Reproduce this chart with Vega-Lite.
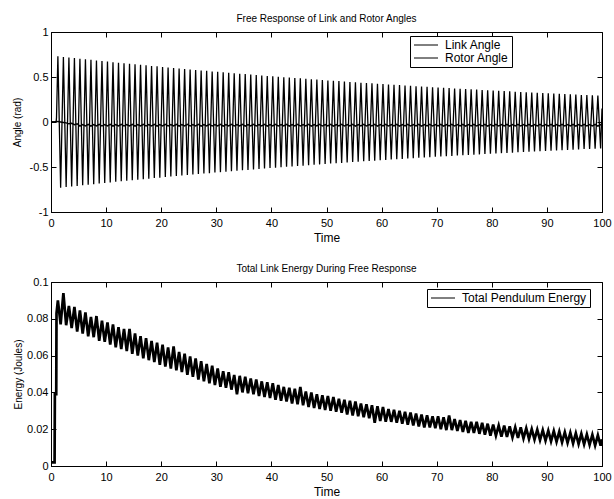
{
"$schema": "https://vega.github.io/schema/vega-lite/v6.json",
"padding": {"left": 11, "top": 13, "right": 0, "bottom": 2},
"background": "white",
"data": {"values": [
{"t":0,"link":0,"rotor":0,"energy":0.002},
{"t":0.65,"link":0,"rotor":0,"energy":0.002},
{"t":0.7,"link":0,"rotor":0,"energy":0.039},
{"t":0.95,"link":0.01,"rotor":0.002,"energy":0.039},
{"t":1.0,"link":0.05,"rotor":0.004,"energy":0.083},
{"t":1.25,"link":0.73,"rotor":0.005,"energy":0.09},{"t":1.75,"link":-0.73,"rotor":0,"energy":0.077},
{"t":2.25,"link":0.723,"rotor":-0.005,"energy":0.094},{"t":2.75,"link":-0.723,"rotor":-0.01,"energy":0.0765},
{"t":3.25,"link":0.717,"rotor":-0.02,"energy":0.087},{"t":3.75,"link":-0.717,"rotor":-0.015,"energy":0.075},
{"t":4.25,"link":0.71,"rotor":-0.03,"energy":0.0865},{"t":4.75,"link":-0.71,"rotor":-0.02,"energy":0.073},
{"t":5.25,"link":0.704,"rotor":-0.045,"energy":0.0845},{"t":5.75,"link":-0.704,"rotor":-0.028,"energy":0.072},
{"t":6.25,"link":0.697,"rotor":-0.044,"energy":0.0835},{"t":6.75,"link":-0.697,"rotor":-0.027,"energy":0.0705},
{"t":7.25,"link":0.691,"rotor":-0.046,"energy":0.081},{"t":7.75,"link":-0.691,"rotor":-0.029,"energy":0.07},
{"t":8.25,"link":0.684,"rotor":-0.043,"energy":0.0815},{"t":8.75,"link":-0.684,"rotor":-0.026,"energy":0.068},
{"t":9.25,"link":0.678,"rotor":-0.045,"energy":0.079},{"t":9.75,"link":-0.678,"rotor":-0.028,"energy":0.0675},
{"t":10.25,"link":0.671,"rotor":-0.044,"energy":0.078},{"t":10.75,"link":-0.671,"rotor":-0.027,"energy":0.066},
{"t":11.25,"link":0.665,"rotor":-0.046,"energy":0.077},{"t":11.75,"link":-0.665,"rotor":-0.029,"energy":0.0645},
{"t":12.25,"link":0.659,"rotor":-0.043,"energy":0.0755},{"t":12.75,"link":-0.659,"rotor":-0.026,"energy":0.0635},
{"t":13.25,"link":0.653,"rotor":-0.045,"energy":0.0745},{"t":13.75,"link":-0.653,"rotor":-0.028,"energy":0.0625},
{"t":14.25,"link":0.647,"rotor":-0.044,"energy":0.0745},{"t":14.75,"link":-0.647,"rotor":-0.027,"energy":0.061},
{"t":15.25,"link":0.641,"rotor":-0.046,"energy":0.072},{"t":15.75,"link":-0.641,"rotor":-0.029,"energy":0.06},
{"t":16.25,"link":0.635,"rotor":-0.043,"energy":0.0705},{"t":16.75,"link":-0.635,"rotor":-0.026,"energy":0.0585},
{"t":17.25,"link":0.629,"rotor":-0.045,"energy":0.0695},{"t":17.75,"link":-0.629,"rotor":-0.028,"energy":0.0575},
{"t":18.25,"link":0.623,"rotor":-0.044,"energy":0.068},{"t":18.75,"link":-0.623,"rotor":-0.027,"energy":0.0565},
{"t":19.25,"link":0.618,"rotor":-0.046,"energy":0.067},{"t":19.75,"link":-0.618,"rotor":-0.029,"energy":0.055},
{"t":20.25,"link":0.612,"rotor":-0.043,"energy":0.066},{"t":20.75,"link":-0.612,"rotor":-0.026,"energy":0.054},
{"t":21.25,"link":0.606,"rotor":-0.045,"energy":0.0645},{"t":21.75,"link":-0.606,"rotor":-0.028,"energy":0.053},
{"t":22.25,"link":0.6,"rotor":-0.044,"energy":0.065},{"t":22.75,"link":-0.6,"rotor":-0.027,"energy":0.052},
{"t":23.25,"link":0.595,"rotor":-0.046,"energy":0.062},{"t":23.75,"link":-0.595,"rotor":-0.029,"energy":0.051},
{"t":24.25,"link":0.589,"rotor":-0.043,"energy":0.061},{"t":24.75,"link":-0.589,"rotor":-0.026,"energy":0.0495},
{"t":25.25,"link":0.584,"rotor":-0.045,"energy":0.0595},{"t":25.75,"link":-0.584,"rotor":-0.028,"energy":0.0485},
{"t":26.25,"link":0.578,"rotor":-0.044,"energy":0.0585},{"t":26.75,"link":-0.578,"rotor":-0.027,"energy":0.047},
{"t":27.25,"link":0.573,"rotor":-0.046,"energy":0.057},{"t":27.75,"link":-0.573,"rotor":-0.029,"energy":0.046},
{"t":28.25,"link":0.568,"rotor":-0.043,"energy":0.0555},{"t":28.75,"link":-0.568,"rotor":-0.026,"energy":0.045},
{"t":29.25,"link":0.562,"rotor":-0.045,"energy":0.0545},{"t":29.75,"link":-0.562,"rotor":-0.028,"energy":0.044},
{"t":30.25,"link":0.557,"rotor":-0.044,"energy":0.053},{"t":30.75,"link":-0.557,"rotor":-0.027,"energy":0.043},
{"t":31.25,"link":0.552,"rotor":-0.046,"energy":0.0515},{"t":31.75,"link":-0.552,"rotor":-0.029,"energy":0.0425},
{"t":32.25,"link":0.547,"rotor":-0.043,"energy":0.051},{"t":32.75,"link":-0.547,"rotor":-0.026,"energy":0.0415},
{"t":33.25,"link":0.542,"rotor":-0.045,"energy":0.0495},{"t":33.75,"link":-0.542,"rotor":-0.028,"energy":0.039},
{"t":34.25,"link":0.537,"rotor":-0.044,"energy":0.049},{"t":34.75,"link":-0.537,"rotor":-0.027,"energy":0.04},
{"t":35.25,"link":0.532,"rotor":-0.046,"energy":0.0485},{"t":35.75,"link":-0.532,"rotor":-0.029,"energy":0.0395},
{"t":36.25,"link":0.527,"rotor":-0.043,"energy":0.0475},{"t":36.75,"link":-0.527,"rotor":-0.026,"energy":0.039},
{"t":37.25,"link":0.522,"rotor":-0.045,"energy":0.047},{"t":37.75,"link":-0.522,"rotor":-0.028,"energy":0.038},
{"t":38.25,"link":0.517,"rotor":-0.044,"energy":0.046},{"t":38.75,"link":-0.517,"rotor":-0.027,"energy":0.0375},
{"t":39.25,"link":0.512,"rotor":-0.046,"energy":0.0455},{"t":39.75,"link":-0.512,"rotor":-0.029,"energy":0.037},
{"t":40.25,"link":0.508,"rotor":-0.043,"energy":0.045},{"t":40.75,"link":-0.508,"rotor":-0.026,"energy":0.036},
{"t":41.25,"link":0.503,"rotor":-0.045,"energy":0.044},{"t":41.75,"link":-0.503,"rotor":-0.028,"energy":0.0355},
{"t":42.25,"link":0.498,"rotor":-0.044,"energy":0.043},{"t":42.75,"link":-0.498,"rotor":-0.027,"energy":0.035},
{"t":43.25,"link":0.494,"rotor":-0.046,"energy":0.0425},{"t":43.75,"link":-0.494,"rotor":-0.029,"energy":0.034},
{"t":44.25,"link":0.489,"rotor":-0.043,"energy":0.042},{"t":44.75,"link":-0.489,"rotor":-0.026,"energy":0.0335},
{"t":45.25,"link":0.485,"rotor":-0.045,"energy":0.043},{"t":45.75,"link":-0.485,"rotor":-0.028,"energy":0.033},
{"t":46.25,"link":0.48,"rotor":-0.044,"energy":0.0405},{"t":46.75,"link":-0.48,"rotor":-0.027,"energy":0.032},
{"t":47.25,"link":0.476,"rotor":-0.046,"energy":0.04},{"t":47.75,"link":-0.476,"rotor":-0.029,"energy":0.0315},
{"t":48.25,"link":0.471,"rotor":-0.043,"energy":0.039},{"t":48.75,"link":-0.471,"rotor":-0.026,"energy":0.031},
{"t":49.25,"link":0.467,"rotor":-0.045,"energy":0.0385},{"t":49.75,"link":-0.467,"rotor":-0.028,"energy":0.0305},
{"t":50.25,"link":0.462,"rotor":-0.044,"energy":0.038},{"t":50.75,"link":-0.462,"rotor":-0.027,"energy":0.03},
{"t":51.25,"link":0.458,"rotor":-0.046,"energy":0.0375},{"t":51.75,"link":-0.458,"rotor":-0.029,"energy":0.0295},
{"t":52.25,"link":0.454,"rotor":-0.043,"energy":0.0365},{"t":52.75,"link":-0.454,"rotor":-0.026,"energy":0.029},
{"t":53.25,"link":0.45,"rotor":-0.045,"energy":0.036},{"t":53.75,"link":-0.45,"rotor":-0.028,"energy":0.028},
{"t":54.25,"link":0.445,"rotor":-0.044,"energy":0.0355},{"t":54.75,"link":-0.445,"rotor":-0.027,"energy":0.0275},
{"t":55.25,"link":0.441,"rotor":-0.046,"energy":0.035},{"t":55.75,"link":-0.441,"rotor":-0.029,"energy":0.027},
{"t":56.25,"link":0.437,"rotor":-0.043,"energy":0.034},{"t":56.75,"link":-0.437,"rotor":-0.026,"energy":0.0265},
{"t":57.25,"link":0.433,"rotor":-0.045,"energy":0.0335},{"t":57.75,"link":-0.433,"rotor":-0.028,"energy":0.026},
{"t":58.25,"link":0.429,"rotor":-0.044,"energy":0.033},{"t":58.75,"link":-0.429,"rotor":-0.027,"energy":0.0235},
{"t":59.25,"link":0.425,"rotor":-0.046,"energy":0.0325},{"t":59.75,"link":-0.425,"rotor":-0.029,"energy":0.0245},
{"t":60.25,"link":0.421,"rotor":-0.043,"energy":0.032},{"t":60.75,"link":-0.421,"rotor":-0.026,"energy":0.024},
{"t":61.25,"link":0.417,"rotor":-0.045,"energy":0.031},{"t":61.75,"link":-0.417,"rotor":-0.028,"energy":0.024},
{"t":62.25,"link":0.413,"rotor":-0.044,"energy":0.0305},{"t":62.75,"link":-0.413,"rotor":-0.027,"energy":0.0235},
{"t":63.25,"link":0.41,"rotor":-0.046,"energy":0.03},{"t":63.75,"link":-0.41,"rotor":-0.029,"energy":0.023},
{"t":64.25,"link":0.406,"rotor":-0.043,"energy":0.0295},{"t":64.75,"link":-0.406,"rotor":-0.026,"energy":0.0225},
{"t":65.25,"link":0.402,"rotor":-0.045,"energy":0.029},{"t":65.75,"link":-0.402,"rotor":-0.028,"energy":0.022},
{"t":66.25,"link":0.398,"rotor":-0.044,"energy":0.0285},{"t":66.75,"link":-0.398,"rotor":-0.027,"energy":0.0215},
{"t":67.25,"link":0.395,"rotor":-0.046,"energy":0.028},{"t":67.75,"link":-0.395,"rotor":-0.029,"energy":0.021},
{"t":68.25,"link":0.391,"rotor":-0.043,"energy":0.0275},{"t":68.75,"link":-0.391,"rotor":-0.026,"energy":0.021},
{"t":69.25,"link":0.387,"rotor":-0.045,"energy":0.027},{"t":69.75,"link":-0.387,"rotor":-0.028,"energy":0.0205},
{"t":70.25,"link":0.384,"rotor":-0.044,"energy":0.027},{"t":70.75,"link":-0.384,"rotor":-0.027,"energy":0.02},
{"t":71.25,"link":0.38,"rotor":-0.046,"energy":0.0265},{"t":71.75,"link":-0.38,"rotor":-0.029,"energy":0.0195},
{"t":72.25,"link":0.377,"rotor":-0.043,"energy":0.0275},{"t":72.75,"link":-0.377,"rotor":-0.026,"energy":0.0195},
{"t":73.25,"link":0.373,"rotor":-0.045,"energy":0.0255},{"t":73.75,"link":-0.373,"rotor":-0.028,"energy":0.019},
{"t":74.25,"link":0.37,"rotor":-0.044,"energy":0.025},{"t":74.75,"link":-0.37,"rotor":-0.027,"energy":0.0185},
{"t":75.25,"link":0.366,"rotor":-0.046,"energy":0.0245},{"t":75.75,"link":-0.366,"rotor":-0.029,"energy":0.018},
{"t":76.25,"link":0.363,"rotor":-0.043,"energy":0.024},{"t":76.75,"link":-0.363,"rotor":-0.026,"energy":0.018},
{"t":77.25,"link":0.36,"rotor":-0.045,"energy":0.024},{"t":77.75,"link":-0.36,"rotor":-0.028,"energy":0.0175},
{"t":78.25,"link":0.356,"rotor":-0.044,"energy":0.0235},{"t":78.75,"link":-0.356,"rotor":-0.027,"energy":0.017},
{"t":79.25,"link":0.353,"rotor":-0.046,"energy":0.023},{"t":79.75,"link":-0.353,"rotor":-0.029,"energy":0.0165},
{"t":80.25,"link":0.35,"rotor":-0.043,"energy":0.0225},{"t":80.75,"link":-0.35,"rotor":-0.026,"energy":0.0165},
{"t":81.25,"link":0.346,"rotor":-0.045,"energy":0.022},{"t":81.75,"link":-0.346,"rotor":-0.028,"energy":0.016},
{"t":82.25,"link":0.343,"rotor":-0.044,"energy":0.022},{"t":82.75,"link":-0.343,"rotor":-0.027,"energy":0.0158},
{"t":83.25,"link":0.34,"rotor":-0.046,"energy":0.0215},{"t":83.75,"link":-0.34,"rotor":-0.029,"energy":0.0155},
{"t":84.25,"link":0.337,"rotor":-0.043,"energy":0.021},{"t":84.75,"link":-0.337,"rotor":-0.026,"energy":0.0152},
{"t":85.25,"link":0.334,"rotor":-0.045,"energy":0.021},{"t":85.75,"link":-0.334,"rotor":-0.028,"energy":0.015},
{"t":86.25,"link":0.331,"rotor":-0.044,"energy":0.0205},{"t":86.75,"link":-0.331,"rotor":-0.027,"energy":0.0147},
{"t":87.25,"link":0.328,"rotor":-0.046,"energy":0.02},{"t":87.75,"link":-0.328,"rotor":-0.029,"energy":0.0144},
{"t":88.25,"link":0.325,"rotor":-0.043,"energy":0.0198},{"t":88.75,"link":-0.325,"rotor":-0.026,"energy":0.0141},
{"t":89.25,"link":0.322,"rotor":-0.045,"energy":0.0195},{"t":89.75,"link":-0.322,"rotor":-0.028,"energy":0.0138},
{"t":90.25,"link":0.319,"rotor":-0.044,"energy":0.0192},{"t":90.75,"link":-0.319,"rotor":-0.027,"energy":0.0135},
{"t":91.25,"link":0.316,"rotor":-0.046,"energy":0.019},{"t":91.75,"link":-0.316,"rotor":-0.029,"energy":0.0132},
{"t":92.25,"link":0.313,"rotor":-0.043,"energy":0.0187},{"t":92.75,"link":-0.313,"rotor":-0.026,"energy":0.0129},
{"t":93.25,"link":0.31,"rotor":-0.045,"energy":0.0184},{"t":93.75,"link":-0.31,"rotor":-0.028,"energy":0.0126},
{"t":94.25,"link":0.307,"rotor":-0.044,"energy":0.0181},{"t":94.75,"link":-0.307,"rotor":-0.027,"energy":0.0123},
{"t":95.25,"link":0.304,"rotor":-0.046,"energy":0.0178},{"t":95.75,"link":-0.304,"rotor":-0.029,"energy":0.012},
{"t":96.25,"link":0.301,"rotor":-0.043,"energy":0.0175},{"t":96.75,"link":-0.301,"rotor":-0.026,"energy":0.0118},
{"t":97.25,"link":0.299,"rotor":-0.045,"energy":0.0172},{"t":97.75,"link":-0.299,"rotor":-0.028,"energy":0.0115},
{"t":98.25,"link":0.296,"rotor":-0.044,"energy":0.017},{"t":98.75,"link":-0.296,"rotor":-0.027,"energy":0.0112},
{"t":99.25,"link":0.293,"rotor":-0.046,"energy":0.0167},{"t":99.75,"link":-0.293,"rotor":-0.029,"energy":0.011},
{"t":100,"link":0.15,"rotor":-0.04,"energy":0.0145}
]},
"vconcat": [
{
"title": {"text": "Free Response of Link and Rotor Angles", "fontSize": 10, "fontWeight": "normal", "offset": 2, "color": "black"},
"width": 551, "height": 180,
"resolve": {"axis": {"x": "independent", "y": "independent"}},
"layer": [
{"mark": {"type": "line", "strokeWidth": 1.3, "clip": true},
 "encoding": {
  "x": {"field": "t", "type": "quantitative", "scale": {"domain": [0, 100], "nice": false},
        "axis": {"title": "Time", "values": [0,10,20,30,40,50,60,70,80,90,100], "labelExpr": "'' + datum.value"}},
  "y": {"field": "link", "type": "quantitative", "scale": {"domain": [-1, 1], "nice": false},
        "axis": {"title": "Angle (rad)", "titleFontSize": 10, "titlePadding": 7, "values": [-1,-0.5,0,0.5,1], "labelExpr": "'' + datum.value"}},
  "color": {"datum": "Link Angle", "type": "nominal",
            "scale": {"domain": ["Link Angle", "Rotor Angle"], "range": ["black", "black"]},
            "legend": {"title": null, "orient": "none", "legendX": 359, "legendY": 4}}
 }},
{"mark": {"type": "line", "strokeWidth": 1.4, "clip": true},
 "encoding": {
  "x": {"field": "t", "type": "quantitative",
        "axis": {"orient": "top", "title": null, "labels": false, "domain": false, "values": [0,10,20,30,40,50,60,70,80,90,100]}},
  "y": {"field": "rotor", "type": "quantitative",
        "axis": {"orient": "right", "title": null, "labels": false, "domain": false, "values": [-1,-0.5,0,0.5,1]}},
  "color": {"datum": "Rotor Angle", "type": "nominal"}
 }}
]
},
{
"title": {"text": "Total Link Energy During Free Response", "fontSize": 10, "fontWeight": "normal", "offset": 2, "color": "black"},
"width": 551, "height": 184,
"resolve": {"axis": {"x": "independent", "y": "independent"}},
"layer": [
{"mark": {"type": "line", "strokeWidth": 2.7, "clip": true},
 "encoding": {
  "x": {"field": "t", "type": "quantitative", "scale": {"domain": [0, 100], "nice": false},
        "axis": {"title": "Time", "values": [0,10,20,30,40,50,60,70,80,90,100], "labelExpr": "'' + datum.value"}},
  "y": {"field": "energy", "type": "quantitative", "scale": {"domain": [0, 0.1], "nice": false},
        "axis": {"title": "Energy (Joules)", "titleFontSize": 10, "titlePadding": 3, "values": [0,0.02,0.04,0.06,0.08,0.1], "labelExpr": "'' + datum.value"}},
  "color": {"datum": "Total Pendulum Energy", "type": "nominal",
            "scale": {"domain": ["Total Pendulum Energy"], "range": ["black"]},
            "legend": {"title": null, "orient": "none", "legendX": 376, "legendY": 7}}
 }},
{"mark": {"type": "line", "strokeWidth": 0.9, "clip": true, "opacity": 0},
 "encoding": {
  "x": {"field": "t", "type": "quantitative",
        "axis": {"orient": "top", "title": null, "labels": false, "domain": false, "values": [0,10,20,30,40,50,60,70,80,90,100]}},
  "y": {"field": "energy", "type": "quantitative",
        "axis": {"orient": "right", "title": null, "labels": false, "domain": false, "values": [0,0.02,0.04,0.06,0.08,0.1]}}
 }}
]
}
],
"spacing": 19,
"resolve": {"scale": {"color": "independent"}, "legend": {"color": "independent"}},
"config": {
 "font": "Liberation Sans",
 "view": {"stroke": "black", "strokeWidth": 1},
 "axis": {"grid": false, "domainColor": "black", "tickColor": "black", "labelColor": "black", "titleColor": "black",
          "labelFontSize": 11, "titleFontSize": 12, "titleFontWeight": "normal", "tickSize": -5, "labelPadding": 8,
          "titlePadding": 2, "labelFlush": false, "labelOverlap": false},
 "axisX": {"labelPadding": 10, "titlePadding": 4},
 "legend": {"strokeColor": "black", "fillColor": "white", "padding": 3, "labelFontSize": 12, "labelColor": "black",
            "symbolType": "M-1,0H3.8", "symbolSize": 100, "symbolStrokeWidth": 1, "symbolStrokeColor": "black",
            "rowPadding": 1, "labelOffset": 20, "cornerRadius": 0}
}
}
